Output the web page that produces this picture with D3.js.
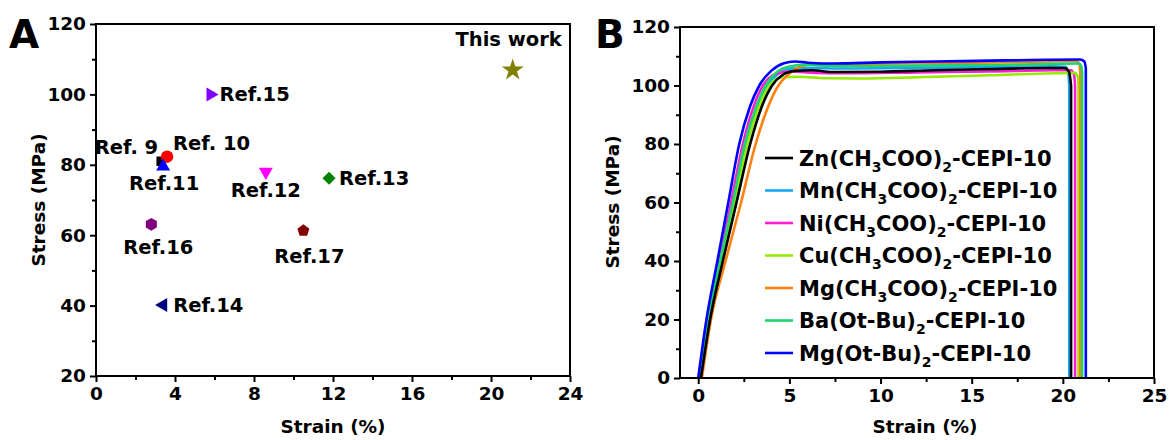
<!DOCTYPE html>
<html>
<head>
<meta charset="utf-8">
<script src="https://cdn.jsdelivr.net/npm/d3@7"></script>
<style>
body { margin: 0; background: #fff; }
svg text { font-family: "DejaVu Sans", sans-serif; font-weight: bold; fill: #000; }
</style>
</head>
<body>
<svg id="chart" width="1171" height="440"></svg>
<script>
// ---- panel A: strength / elongation comparison with literature ----
const refNames = ["Ref. 9", "Ref. 10", "Ref.11", "Ref.12", "Ref.13", "Ref.14", "Ref.15", "Ref.16", "Ref.17", "This work"];
const refStrain = [3.3, 3.6, 3.4, 8.6, 11.8, 3.4, 5.8, 2.8, 10.5, 21.1];
const refStress = [81, 82.3, 79.5, 78, 76.2, 40.2, 100, 63.1, 61.3, 106.9];
const refMarkers = ["square", "circle", "triUp", "triDown", "diamond", "triLeft", "triRight", "hexagon", "pentagon", "star"];
const refColors = ["#000000", "#ff0000", "#0000ff", "#ff00ff", "#008000", "#000080", "#8000ff", "#800080", "#800000", "#808000"];

// ---- panel B: stress-strain curves (strain %, stress MPa) ----
const seriesNames = [
    "Zn(CH_3COO)_2-CEPI-10", "Mn(CH_3COO)_2-CEPI-10", "Ni(CH_3COO)_2-CEPI-10",
    "Cu(CH_3COO)_2-CEPI-10", "Mg(CH_3COO)_2-CEPI-10", "Ba(Ot-Bu)_2-CEPI-10", "Mg(Ot-Bu)_2-CEPI-10"
];
const seriesColors = ["#000000", "#18a8f5", "#ff1ed6", "#96ec00", "#ff800e", "#1ed46c", "#0000ff"];
const znCurve = [[0.15,0],[0.65,20],[1.35,40],[2.1,60],[2.85,80],[3.5,93],[4.05,100],[4.6,103.5],[5.3,105],[6.2,105.2],[7.5,104.6],[10,104.7],[13,105.2],[16,105.6],[19,106],[20.1,106],[20.35,104.5],[20.45,100]];
const mnCurve = [[0.15,0],[0.6,20],[1.25,40],[1.95,60],[2.65,80],[3.3,93],[3.8,100],[4.4,104],[5.1,105.8],[6,106],[8,105.8],[12,106],[16,106.3],[19.5,106.6],[20.15,106.4],[20.3,104],[20.35,100]];
const niCurve = [[0.05,0],[0.5,20],[1.15,40],[1.8,60],[2.45,80],[3.05,93],[3.55,100],[4.2,103.8],[5,104.8],[6,104.5],[8,104.2],[12,104.5],[16,104.8],[19.5,105.2],[20.45,105.2],[20.62,103.5],[20.67,100]];
const cuCurve = [[0.1,0],[0.6,20],[1.3,40],[2,60],[2.7,80],[3.35,93],[3.9,100],[4.6,102.8],[5.5,103],[7,102.5],[9,102.4],[12,102.8],[16,103.5],[19.5,104.2],[20.65,104.3],[20.82,103],[20.86,100]];
const mgAcCurve = [[0.2,0],[0.7,20],[1.5,40],[2.35,60],[3.15,80],[3.85,93],[4.4,100],[5,104],[5.6,106.5],[6.3,107.3],[8,107.4],[12,107.6],[16,107.9],[19,108.2],[20.7,108.4],[20.9,107.5],[20.96,104]];
const baCurve = [[0.1,0],[0.55,20],[1.2,40],[1.9,60],[2.55,80],[3.2,93],[3.7,100],[4.3,104.5],[5,106.5],[5.8,107],[8,106.6],[12,106.8],[16,107],[19.5,107.4],[20.85,107.5],[21.02,106.5],[21.06,104]];
const mgOtCurve = [[0,0],[0.45,20],[1.05,40],[1.65,60],[2.25,80],[2.85,93],[3.35,100],[4,105],[4.7,107.6],[5.3,108.2],[6,107.8],[7.5,107.5],[10,107.9],[13,108.2],[16,108.5],[19,108.8],[20.95,108.9],[21.18,108.2],[21.26,106]];
const seriesCurves = [znCurve, mnCurve, niCurve, cuCurve, mgAcCurve, baCurve, mgOtCurve];

const svg = d3.select("#chart");

// ---------- helpers ----------
function regularPolygon(n, rot) {
    return {
        draw(ctx, size) {
            const r = Math.sqrt(size / (0.5 * n * Math.sin(2 * Math.PI / n)));
            for (let i = 0; i < n; i++) {
                const a = rot + i * 2 * Math.PI / n;
                const px = r * Math.sin(a), py = -r * Math.cos(a);
                if (i === 0) ctx.moveTo(px, py); else ctx.lineTo(px, py);
            }
            ctx.closePath();
        }
    };
}

const markerDefs = {
    square:   {type: d3.symbolSquare, size: 90, rot: 0},
    circle:   {type: d3.symbolCircle, size: 120, rot: 0},
    triUp:    {type: d3.symbolTriangle, size: 85, rot: 0},
    triDown:  {type: d3.symbolTriangle, size: 85, rot: 180},
    triLeft:  {type: d3.symbolTriangle, size: 85, rot: -90},
    triRight: {type: d3.symbolTriangle, size: 85, rot: 90},
    diamond:  {type: d3.symbolSquare, size: 85, rot: 45},
    hexagon:  {type: regularPolygon(6, 0), size: 105, rot: 0},
    pentagon: {type: regularPolygon(5, 0), size: 95, rot: 0},
    star:     {type: d3.symbolStar, size: 150, rot: 0}
};

// label placement relative to each marker (px): dx, dy, anchor
const labelLayout = [
    [-3, -7, "end"], [6, -7, "start"], [1, 23, "middle"], [0, 25, "middle"], [10, 7, "start"],
    [10, 7, "start"], [9, 7, "start"], [7, 30, "middle"], [6, 32, "middle"], [49, -24, "end"]
];

function drawFrame(g, x, y, xMajor, xMinor, yMajor, yMinor) {
    const [x0, x1] = x.range(), [y0, y1] = y.range();
    g.append("g").attr("transform", `translate(0,${y0})`)
        .call(d3.axisBottom(x).tickValues(xMinor).tickSize(4).tickFormat(""))
        .call(a => a.select(".domain").remove());
    g.append("g").attr("transform", `translate(${x0},0)`)
        .call(d3.axisLeft(y).tickValues(yMinor).tickSize(4).tickFormat(""))
        .call(a => a.select(".domain").remove());
    g.append("g").attr("class", "major").attr("transform", `translate(0,${y0})`)
        .call(d3.axisBottom(x).tickValues(xMajor).tickSize(6).tickPadding(5).tickSizeOuter(0))
        .call(a => a.select(".domain").remove());
    g.append("g").attr("class", "major").attr("transform", `translate(${x0},0)`)
        .call(d3.axisLeft(y).tickValues(yMajor).tickSize(6).tickPadding(4).tickSizeOuter(0))
        .call(a => a.select(".domain").remove());
    g.selectAll(".tick line").attr("stroke", "#000").attr("stroke-width", 2);
    g.selectAll(".major text").attr("font-size", 18.5).attr("fill", "#000")
        .style("font-family", "'DejaVu Sans', sans-serif").style("font-weight", "bold");
    g.append("rect")
        .attr("x", x0).attr("y", y1)
        .attr("width", x1 - x0).attr("height", y0 - y1)
        .attr("fill", "none").attr("stroke", "#000").attr("stroke-width", 2);
}

// ---------- panel A ----------
const xA = d3.scaleLinear().domain([0, 24]).range([96, 570]);
const yA = d3.scaleLinear().domain([20, 120]).range([376, 24]);
const gA = svg.append("g");
drawFrame(gA, xA, yA, d3.range(0, 25, 4), d3.range(2, 24, 4), d3.range(20, 121, 20), d3.range(30, 120, 20));

const pts = gA.append("g");
refNames.forEach((name, i) => {
    const m = markerDefs[refMarkers[i]];
    const px = xA(refStrain[i]), py = yA(refStress[i]);
    pts.append("path")
        .attr("d", d3.symbol(m.type, m.size)())
        .attr("transform", `translate(${px},${py}) rotate(${m.rot})`)
        .attr("fill", refColors[i]);
    const [dx, dy, anchor] = labelLayout[i];
    pts.append("text")
        .attr("x", px + dx).attr("y", py + dy)
        .attr("text-anchor", anchor)
        .attr("font-size", 19.5)
        .text(name);
});

gA.append("text").attr("x", 333).attr("y", 433).attr("text-anchor", "middle").attr("font-size", 18.5).text("Strain (%)");
gA.append("text").attr("transform", "translate(45,200) rotate(-90)").attr("text-anchor", "middle").attr("font-size", 18.5).text("Stress (MPa)");
svg.append("text").attr("x", 9).attr("y", 48).attr("font-size", 39).text("A");

// ---------- panel B ----------
const xB = d3.scaleLinear().domain([-1, 25]).range([680, 1154]);
const yB = d3.scaleLinear().domain([0, 120]).range([378, 27]);
const gB = svg.append("g");

const line = d3.line().x(d => xB(d[0])).y(d => yB(d[1])).curve(d3.curveMonotoneX);
const drawOrder = [1, 2, 3, 4, 5, 6, 0];
drawOrder.forEach(i => {
    const c = seriesCurves[i];
    const last = c[c.length - 1];
    gB.append("path")
        .attr("d", line(c) + `L${xB(last[0])},${yB(0)}`)
        .attr("fill", "none")
        .attr("stroke", seriesColors[i])
        .attr("stroke-width", 2.6)
        .attr("stroke-linejoin", "round");
});

drawFrame(gB, xB, yB, d3.range(0, 26, 5), d3.range(2.5, 25, 5), d3.range(0, 121, 20), d3.range(10, 120, 20));

// legend
const legend = gB.append("g").attr("transform", "translate(765,158)");
seriesNames.forEach((name, i) => {
    const row = legend.append("g").attr("transform", `translate(0,${i * 32.5})`);
    row.append("line").attr("x1", 0).attr("x2", 28).attr("y1", 0).attr("y2", 0)
        .attr("stroke", seriesColors[i]).attr("stroke-width", 2.6);
    const t = row.append("text").attr("x", 34).attr("y", 7.5).attr("font-size", 21);
    name.split("_").forEach((part, k) => {
        if (k === 0) { t.append("tspan").text(part); return; }
        t.append("tspan").attr("font-size", 14).attr("dy", 6).text(part[0]);
        t.append("tspan").attr("dy", -6).text(part.slice(1));
    });
});

gB.append("text").attr("x", 925).attr("y", 433).attr("text-anchor", "middle").attr("font-size", 18.5).text("Strain (%)");
gB.append("text").attr("transform", "translate(619,202) rotate(-90)").attr("text-anchor", "middle").attr("font-size", 18.5).text("Stress (MPa)");
svg.append("text").attr("x", 595).attr("y", 48).attr("font-size", 39).text("B");
</script>
</body>
</html>
